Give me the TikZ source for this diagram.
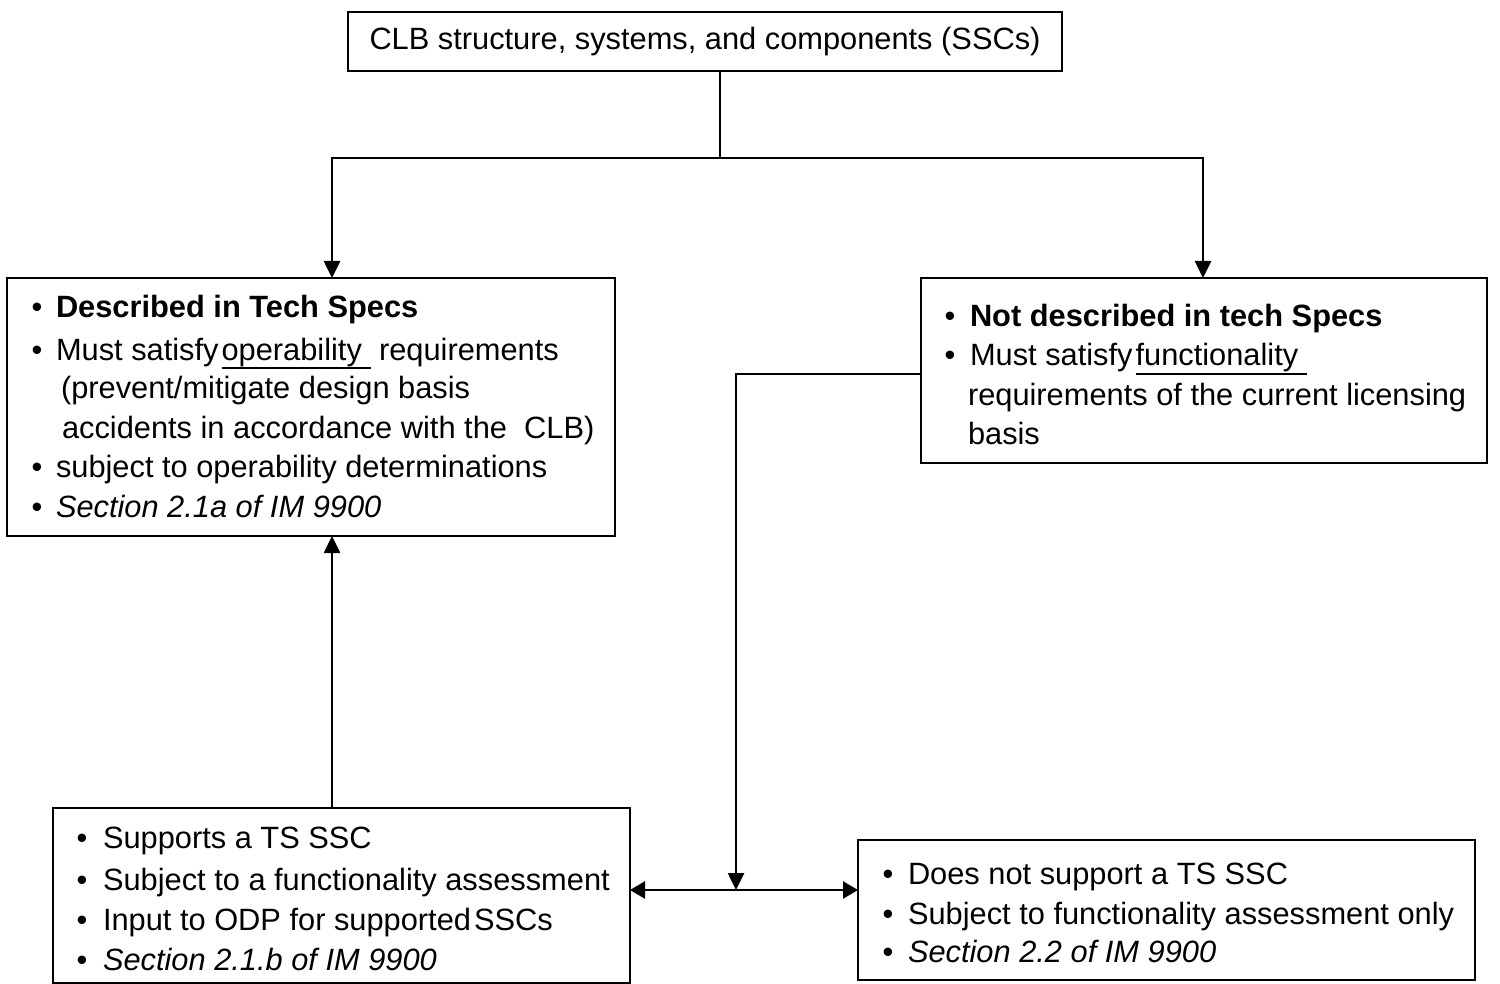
\documentclass[tikz,border=0pt]{standalone}
\usepackage{fontspec}
\setmainfont{Liberation Sans}
\usetikzlibrary{arrows.meta}
\tikzset{
 box/.style={draw, line width=1.6pt, rectangle, inner sep=0pt, outer sep=0pt},
 txt/.style={inner sep=0pt, outer sep=0pt, font=\fontsize{30.8}{40}\selectfont},
 conn/.style={line width=2.6pt},
 arr/.style={conn, -{Triangle[length=17pt,width=16pt]}},
 darr/.style={conn, {Triangle[length=15pt,width=17pt]}-{Triangle[length=15pt,width=17pt]}},
}
\newcommand\bitem[5]{%
  \node[txt,anchor=base] (#1b) at (#2,#4) {\textbullet};
  \node[txt,anchor=base west] (#1) at (#3,#4) {#5};}
\newcommand\uln[1]{\leavevmode\vtop{\hbox{#1}\kern0.5pt\hrule height 2.2pt}}
\begin{document}
\begin{tikzpicture}[x=1pt,y=-1pt]
\useasboundingbox (0,0) rectangle (1500,984);
% boxes
\node[box,txt,minimum width=714pt,minimum height=59pt] (top) at (705,41.5) {CLB structure, systems, and components (SSCs)};
\node[box,minimum width=608pt,minimum height=258pt] (L) at (311,407) {};
\node[box,minimum width=566pt,minimum height=185pt] (R) at (1204,370.5) {};
\node[box,minimum width=577pt,minimum height=175pt] (BL) at (341.5,895.5) {};
\node[box,minimum width=617pt,minimum height=140pt] (BR) at (1166.5,910) {};
% junction coordinates
\coordinate (j) at (720,158);
\coordinate (jl) at (332,158);
\coordinate (jr) at (1203,158);
\coordinate (k) at (736,374);
\coordinate (m) at (736,890);
% connectors
\draw[conn] (top.south -| j) -- (j);
\draw[arr] (j) -- (jl) -- (jl |- L.north);
\draw[arr] (j) -- (jr) -- (jr |- R.north);
\draw[arr] (BL.north -| jl) -- (L.south -| jl);
\draw[arr] (R.west |- k) -- (k) -- (m);
\draw[darr] (BL.east |- m) -- (BR.west |- m);
% left box text
\bitem{la}{37}{56}{318}{\textbf{Described in Tech Specs}}
\bitem{lb}{37}{56}{360}{Must satisfy\hspace{3pt}\uln{operability\ }\ requirements}
\node[txt,anchor=base west] (lc) at (61,399) {(prevent/mitigate design basis};
\node[txt,anchor=base west] (ld) at (62,438) {accidents in accordance with the\ \ CLB)};
\bitem{le}{37}{56}{477}{subject to operability determinations}
\bitem{lf}{37}{56}{517}{\textit{Section 2.1a of IM 9900}}
% right box text
\bitem{ra}{950}{970}{327}{\textbf{Not described in tech Specs}}
\bitem{rb}{950}{970}{366}{Must satisfy\hspace{3pt}\uln{functionality\ }}
\node[txt,anchor=base west] (rc) at (968,406) {requirements of the current licensing};
\node[txt,anchor=base west] (rd) at (968,444) {basis};
% bottom-left text
\bitem{ba}{82}{103}{848}{Supports a TS SSC}
\bitem{bb}{82}{103}{890}{Subject to a functionality assessment}
\bitem{bc}{82}{103}{930}{Input to ODP for supported\hspace{3pt}SSCs}
\bitem{bd}{82}{103}{970}{\textit{Section 2.1.b of IM 9900}}
% bottom-right text
\bitem{ca}{888}{908}{884}{Does not support a TS SSC}
\bitem{cb}{888}{908}{924}{Subject to functionality assessment only}
\bitem{cc}{888}{908}{962}{\textit{Section 2.2 of IM 9900}}
\end{tikzpicture}
\end{document}
